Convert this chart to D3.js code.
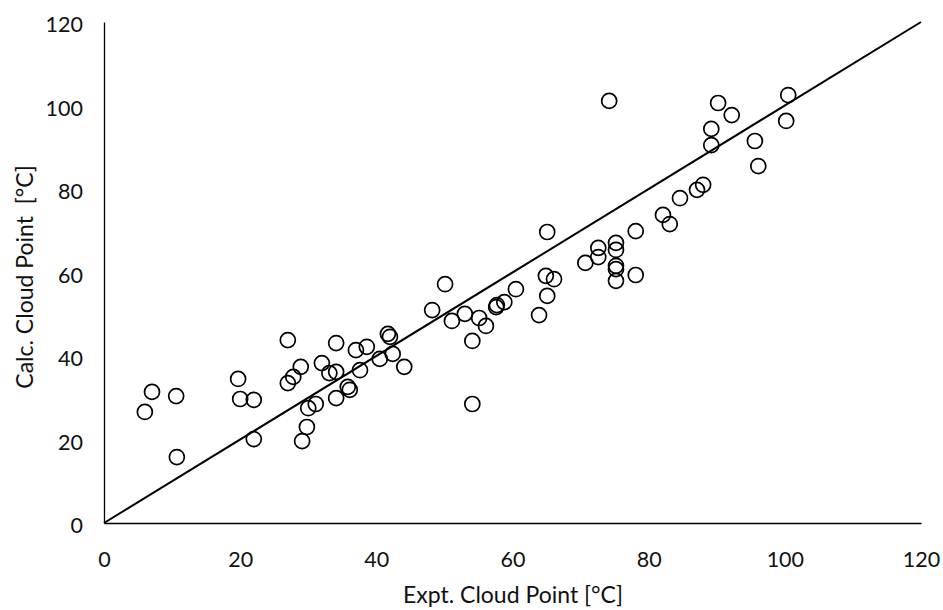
<!DOCTYPE html>
<html>
<head>
<meta charset="utf-8">
<script src="https://cdn.jsdelivr.net/npm/d3@7"></script>
<style>
  body { margin: 0; background: #fff; }
  text { font-family: Lato, "Open Sans", sans-serif; fill: #111; }
</style>
</head>
<body>
<svg width="943" height="610"></svg>
<script>
// experimental vs calculated cloud point [°C]
const exptValues = [6.0, 7.05, 10.6, 10.7, 19.7, 20.0, 22.0, 22.0, 27.0, 27.0, 27.8, 28.9,
  29.1, 29.8, 30.0, 31.1, 32.0, 33.1, 34.1, 34.1, 34.1, 35.8, 36.1, 37.0, 37.6, 38.6,
  40.5, 41.7, 42.0, 42.4, 44.1, 48.2, 50.1, 51.1, 53.0, 54.1, 54.1, 55.1, 56.1, 57.6,
  57.7, 58.8, 60.5, 63.9, 64.9, 65.1, 65.1, 66.1, 70.7, 72.6, 72.6, 74.2, 75.2, 75.2,
  75.2, 75.2, 75.2, 78.1, 78.1, 82.1, 83.1, 84.6, 87.1, 88.0, 89.2, 89.2, 90.2, 92.2,
  95.6, 96.1, 100.2, 100.5];
const calcValues = [26.6, 31.4, 30.4, 15.8, 34.5, 29.7, 29.5, 20.1, 43.8, 33.5, 35.0, 37.4,
  19.6, 23.0, 27.5, 28.5, 38.3, 35.9, 36.2, 43.1, 29.9, 32.6, 31.9, 41.4, 36.6, 42.2,
  39.3, 45.3, 44.6, 40.5, 37.4, 51.0, 57.2, 48.4, 50.1, 43.6, 28.5, 49.1, 47.2, 51.7,
  52.2, 52.9, 56.0, 49.8, 59.2, 54.4, 69.7, 58.4, 62.3, 65.9, 63.7, 101.1, 67.1, 65.4,
  61.6, 60.8, 58.0, 69.9, 59.4, 73.8, 71.6, 77.8, 79.8, 81.0, 94.4, 90.5, 100.6, 97.7,
  91.5, 85.5, 96.3, 102.5];
const tickValues = [0, 20, 40, 60, 80, 100, 120];
const parityLine = [0, 120];

const data = exptValues.map((x, i) => ({ x: x, y: calcValues[i] }));

const svg = d3.select("svg");
const margin = { left: 104, right: 22, top: 22, bottom: 87 };
const width = +svg.attr("width");
const height = +svg.attr("height");
const innerWidth = width - margin.left - margin.right;
const innerHeight = height - margin.top - margin.bottom;

const g = svg.append("g")
  .attr("transform", `translate(${margin.left},${margin.top})`);

const xScale = d3.scaleLinear().domain([0, 120]).range([0, innerWidth]);
const yScale = d3.scaleLinear().domain([0, 120]).range([innerHeight, 0]);

const xAxis = d3.axisBottom(xScale).tickValues(tickValues).tickSize(0).tickPadding(36);
const yAxis = d3.axisLeft(yScale).tickValues(tickValues).tickSize(0).tickPadding(21);

const xAxisG = g.append("g").attr("transform", `translate(0,${innerHeight})`).call(xAxis);
const yAxisG = g.append("g").call(yAxis);

[xAxisG, yAxisG].forEach(a => {
  a.attr("font-family", null).attr("font-size", null);
  a.select(".domain").attr("stroke", "#000").attr("stroke-width", 1.3);
  a.selectAll("text").style("font-size", "21.5px").attr("fill", "#111");
});
yAxisG.selectAll("text").attr("dy", "0.45em");
xAxisG.selectAll("text").attr("dy", "0.36em");

// parity line y = x
g.append("line")
  .attr("x1", xScale(parityLine[0]))
  .attr("y1", yScale(parityLine[0]))
  .attr("x2", xScale(parityLine[1]))
  .attr("y2", yScale(parityLine[1]))
  .attr("stroke", "#000")
  .attr("stroke-width", 2);

g.selectAll("circle.pt")
  .data(data)
  .enter()
  .append("circle")
  .attr("class", "pt")
  .attr("cx", d => xScale(d.x))
  .attr("cy", d => yScale(d.y))
  .attr("r", 7.5)
  .attr("fill", "none")
  .attr("stroke", "#000")
  .attr("stroke-width", 1.7);

svg.append("text")
  .attr("x", 513)
  .attr("y", 603)
  .attr("text-anchor", "middle")
  .style("font-size", "23px")
  .text("Expt. Cloud Point [°C]");

svg.append("text")
  .attr("transform", "rotate(-90)")
  .attr("x", -277)
  .attr("y", 33)
  .attr("text-anchor", "middle")
  .style("font-size", "23px")
  .style("white-space", "pre")
  .text("Calc. Cloud Point  [°C]");
</script>
</body>
</html>
